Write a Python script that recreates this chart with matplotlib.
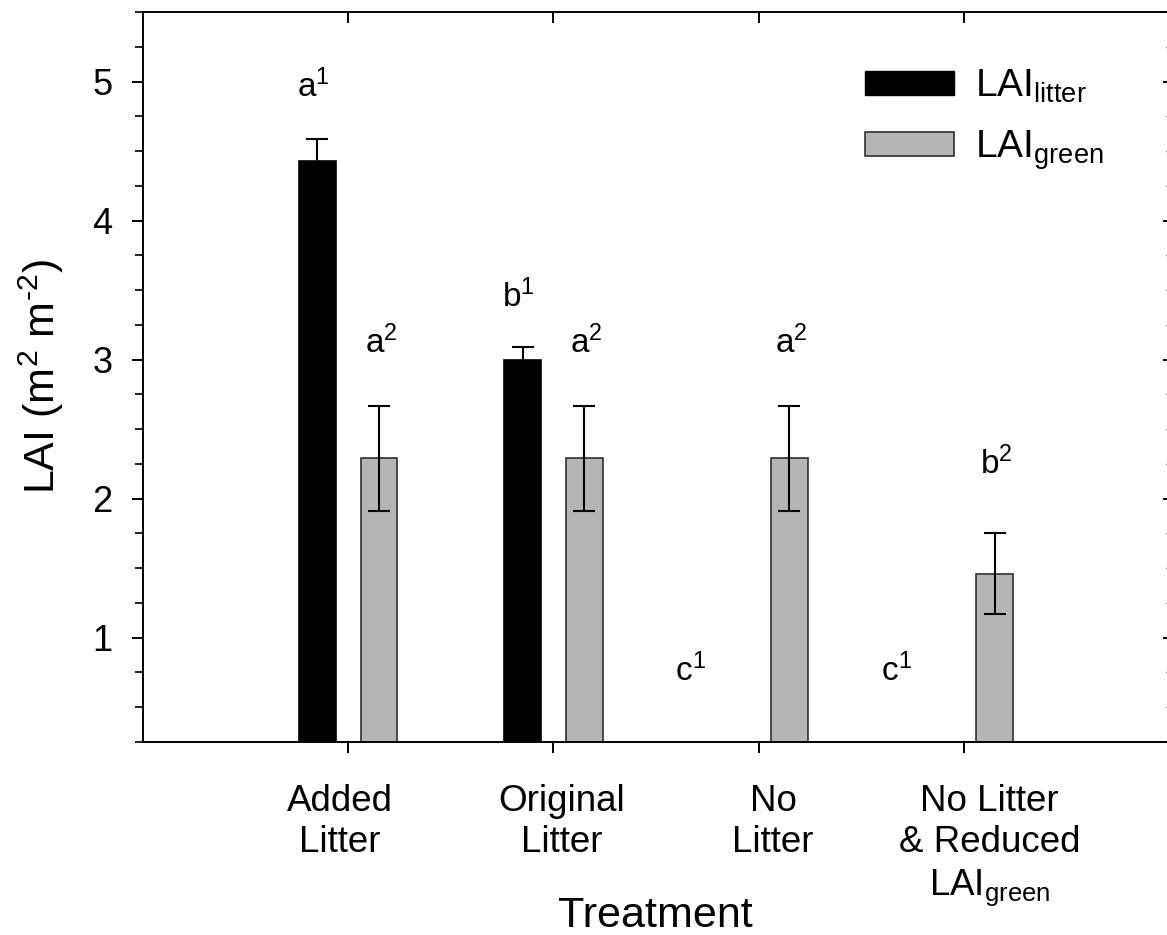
import numpy as np
import matplotlib
matplotlib.use("Agg")
from matplotlib import pyplot as plt
from matplotlib.patches import Patch
from matplotlib.ticker import MultipleLocator, FixedLocator

plt.rcParams['font.family'] = ['Liberation Sans', 'DejaVu Sans']
plt.rcParams['mathtext.fontset'] = 'custom'
plt.rcParams['mathtext.rm'] = 'Liberation Sans'
plt.rcParams['mathtext.it'] = 'Liberation Sans'
plt.rcParams['mathtext.bf'] = 'Liberation Sans:bold'

# data
treatments = ['Added\nLitter', 'Original\nLitter', 'No\nLitter',
              'No Litter\n& Reduced\nLAI$_{\\rm green}$']
lai_litter = [4.43, 3.00, 0.0, 0.0]
lai_litter_err = [0.16, 0.09, 0.0, 0.0]
lai_green = [2.29, 2.29, 2.29, 1.46]
lai_green_err = [0.38, 0.38, 0.38, 0.29]

# significance letters above the bars
letters_litter = ['a$^1$', 'b$^1$', 'c$^1$', 'c$^1$']
letters_litter_y = [4.96, 3.45, 0.76, 0.76]
letters_green = ['a$^2$', 'a$^2$', 'a$^2$', 'b$^2$']
letters_green_y = [3.12, 3.12, 3.12, 2.25]

x = np.arange(1, len(treatments) + 1)
w = 0.18
off = 0.15
label_shift = np.array([-0.04, 0.04, 0.07, 0.125])  # labels sit a bit off the ticks

fig = plt.figure(figsize=(11.67, 9.35), dpi=100)
ax = fig.add_axes([143/1167, 193/935, 1026/1167, 730/935])

has_litter = np.array(lai_litter) > 0
ax.bar(x[has_litter] - off, np.array(lai_litter)[has_litter], w,
       color='black', edgecolor='black', linewidth=1.2, zorder=2)
ax.errorbar(x[has_litter] - off, np.array(lai_litter)[has_litter],
            yerr=np.array(lai_litter_err)[has_litter], fmt='none',
            ecolor='black', elinewidth=1.5, capsize=8, capthick=1.5, zorder=3)

ax.bar(x + off, lai_green, w, color='#b5b5b5', edgecolor='#303030',
       linewidth=1.2, zorder=2)
ax.errorbar(x + off, lai_green, yerr=lai_green_err, fmt='none',
            ecolor='black', elinewidth=1.5, capsize=8, capthick=1.5, zorder=3)

for i in range(len(x)):
    xl = x[i] - off if has_litter[i] else x[i] - 0.31
    ax.text(xl - 0.02, letters_litter_y[i], letters_litter[i], ha='center',
            va='center', fontsize=24)
    ax.text(x[i] + off + 0.01, letters_green_y[i], letters_green[i],
            ha='center', va='center', fontsize=24)

ax.set_xlim(0, 5)
ax.set_ylim(0.25, 5.5)

# tick marks on minor locator, labels on (shifted) major locator
ax.xaxis.set_minor_locator(FixedLocator(x))
ax.set_xticks(x + label_shift)
ax.set_xticklabels(treatments, fontsize=26.5, linespacing=1.25)
ax.tick_params(axis='x', which='major', length=0, pad=30)
ax.tick_params(axis='x', which='minor', direction='out', length=8, width=1.4,
               top=True)
for t in ax.xaxis.get_minor_ticks():
    t.tick2line.set_markersize(8)
    t.tick2line.set_marker(3)

ax.set_yticks([1, 2, 3, 4, 5])
ax.yaxis.set_minor_locator(MultipleLocator(0.25))
ax.tick_params(axis='y', labelsize=26)
ax.tick_params(axis='y', which='major', direction='out', length=8, width=1.4,
               pad=14)
ax.tick_params(axis='y', which='minor', direction='out', length=5.5, width=1.2)
for sp in ax.spines.values():
    sp.set_linewidth(1.4)

# mirrored ticks on the right, pointing inward
ay = ax.secondary_yaxis('right')
ay.set_yticks([1, 2, 3, 4, 5])
ay.yaxis.set_minor_locator(MultipleLocator(0.25))
ay.tick_params(which='major', direction='in', length=4, width=1.4,
               labelright=False)
ay.tick_params(which='minor', direction='in', length=2, width=1.0)

ax.set_ylabel('LAI (m$^2$ m$^{\\text{-}2}$)', fontsize=31, labelpad=19)
ax.set_xlabel('Treatment', fontsize=31)
ax.xaxis.set_label_coords(0.499, -0.211)

handles = [Patch(facecolor='black', edgecolor='black'),
           Patch(facecolor='#b5b5b5', edgecolor='#303030', linewidth=1.2)]
ax.legend(handles, ['LAI$_{\\rm litter}$', 'LAI$_{\\rm green}$'],
          loc='upper left', bbox_to_anchor=(706/1026, 1 - 40/730),
          frameon=False, fontsize=28, handlelength=2.3, handleheight=0.55,
          handletextpad=0.55, labelspacing=0.6, borderaxespad=0)

fig.savefig('out.png', dpi=100)
